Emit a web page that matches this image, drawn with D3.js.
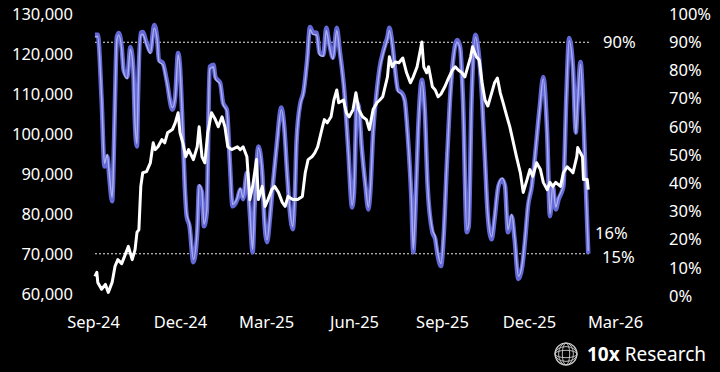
<!DOCTYPE html>
<html><head><meta charset="utf-8">
<script src="https://cdn.jsdelivr.net/npm/d3@7"></script>
<style>
html,body{margin:0;padding:0;background:#000;}
svg{display:block;}
text{font-family:"Noto Sans",sans-serif;fill:#fff;}
</style></head>
<body>
<script>
// ---- data ----
const startDate = "2024-09-01";
const priceDays = [2,4,5,9,13,16,20,23,26,30,33,37,41,44,46,48,50,52,56,60,63,65,68,72,75,78,83,86,89,91,94,97,100,105,109,111,114,117,120,124,128,131,135,138,141,145,151,154,157,161,164,167,171,173,177,180,183,187,190,194,198,201,204,209,214,219,222,225,229,232,235,240,242,245,249,252,255,257,262,265,268,272,275,278,282,286,289,293,297,300,303,308,310,313,316,320,324,328,332,335,339,341,344,346,349,351,355,358,361,364,368,371,376,379,382,386,389,392,395,397,401,404,407,410,413,417,420,423,426,429,433,436,439,443,447,450,454,457,460,464,468,471,475,478,481,484,489,492,496,499,502,506,507,512,513,517,518];
const priceValues = [64400,65400,62900,61200,62400,60400,62900,66900,68600,67600,69400,71900,68600,71100,75400,76100,86900,90300,90600,92800,97800,96100,96800,98600,97800,100300,101100,102800,105300,100300,97800,94300,96100,93600,96800,101800,94300,92800,100300,105300,103600,101800,104300,101800,96800,96100,96800,96100,96800,94300,83600,86900,93600,83600,86900,81900,83600,86100,86900,85400,82900,81900,84400,83600,83600,84400,90300,93600,94300,95300,96800,101800,103600,102800,104300,108500,111000,107800,108500,105300,104300,106100,110300,106100,104300,103600,101100,106100,107800,108500,109300,114300,119300,116800,118000,117800,119000,115300,112800,114300,116800,119300,123000,116800,115300,116800,111800,111000,109300,110000,111800,113500,116000,116800,116000,115300,114300,116800,119300,121800,119300,118500,112800,108500,107000,110300,112800,114000,110300,107800,104300,101800,98600,94300,90300,85400,88600,91100,89400,92800,91100,87900,86100,87900,86900,87900,86900,90300,91800,91100,90300,94300,96600,94300,88600,88600,86100];

const ratioDays = [2,5,9,12,15,17,20,21,23,25,27,30,32,36,39,42,44,46,47,50,52,56,60,64,67,69,73,77,83,86,89,91,93,96,98,101,105,109,111,114,116,119,122,126,128,133,136,140,143,146,151,154,157,161,164,167,169,173,177,179,182,185,188,192,197,200,203,206,209,211,213,217,220,224,227,230,234,237,241,244,247,251,255,258,263,267,271,273,276,278,281,285,288,290,293,297,300,304,308,310,313,316,319,323,326,329,333,335,337,340,344,347,350,355,358,360,364,367,370,373,377,381,384,387,391,393,396,400,403,407,410,413,417,420,424,428,431,434,438,441,445,449,452,455,459,462,467,471,475,478,481,484,487,492,495,498,502,505,507,510,513,516,518];
const ratioA = [92.6,92.6,69.6,45.9,49.5,42.4,33.6,40.3,69.6,91.9,93.3,88.3,80.2,77.7,88.3,81.3,60.1,53.0,69.6,93.3,93.6,89.8,86.6,96.1,91.9,83.7,82.7,76.7,66.1,70.7,86.2,81.3,66.1,38.9,28.3,24.7,12.0,22.6,38.9,36.7,24.7,29.7,81.3,82.0,77.7,75.6,68.6,66.1,48.4,31.8,34.3,37.8,34.3,43.8,29.7,15.5,31.8,53.0,43.8,28.3,19.1,27.2,38.9,53.0,66.8,60.1,43.8,29.7,23.7,34.3,55.5,68.6,72.1,83.7,95.4,93.6,93.3,86.2,85.5,95.1,89.8,84.5,95.1,87.3,72.1,51.9,31.4,36.7,68.6,67.1,53.0,38.9,30.7,36.7,58.0,73.1,81.3,87.3,91.9,95.1,89.8,80.2,73.1,72.1,69.6,58.0,34.3,15.5,28.3,58.0,76.7,66.1,38.9,22.6,20.1,15.5,10.6,22.6,45.9,67.1,84.8,90.8,88.3,69.6,22.6,24.7,69.6,92.6,87.3,69.6,48.4,28.3,20.1,27.2,38.9,41.3,38.9,22.6,28.3,20.1,6.0,10.6,20.1,31.8,38.9,48.4,66.1,77.7,58.0,28.3,38.9,30.7,34.3,38.9,69.6,91.5,81.3,58.0,69.6,83.0,63.6,34.3,15.0];
const ratioB = [91.8,92.0,70.5,47.0,50.2,43.5,35.0,41.0,68.8,91.0,92.5,87.5,79.5,77.0,87.5,80.5,60.8,54.0,69.0,92.5,92.8,89.0,86.0,95.0,91.2,83.0,82.0,76.0,66.8,70.0,85.5,80.8,66.8,39.8,29.2,25.5,13.0,23.5,39.5,37.2,25.5,30.5,80.5,81.2,77.0,75.0,68.0,65.5,48.8,32.5,34.8,38.2,34.8,44.2,30.5,16.5,32.5,52.5,44.0,29.0,20.0,27.8,39.5,52.5,66.0,59.5,43.5,30.5,24.5,35.0,55.0,68.0,71.5,83.0,94.5,92.8,92.5,85.5,85.0,94.2,89.0,84.0,94.2,86.5,71.5,51.5,32.2,37.5,68.0,66.5,52.5,39.5,31.5,37.2,57.5,72.5,80.5,86.5,91.0,94.2,89.0,79.5,72.5,71.5,69.0,57.5,35.0,16.5,29.0,57.5,76.0,65.5,39.5,23.5,21.0,16.5,11.5,23.5,46.5,66.5,84.0,90.0,87.5,69.0,23.5,25.5,69.0,91.8,86.5,69.0,48.8,29.0,21.0,28.0,39.5,41.8,39.5,23.5,29.0,21.0,7.0,11.5,21.0,32.5,39.5,48.8,65.5,77.0,57.5,29.0,39.5,31.5,35.0,39.5,69.0,90.5,80.5,57.5,69.0,82.2,63.0,35.0,16.0];

const leftTicks = [60000,70000,80000,90000,100000,110000,120000,130000];
const rightTicks = [0,10,20,30,40,50,60,70,80,90,100];
const xTickLabels = ["Sep-24","Dec-24","Mar-25","Jun-25","Sep-25","Dec-25","Mar-26"];
const xTickDates = ["2024-09-01","2024-12-01","2025-03-01","2025-06-01","2025-09-01","2025-12-01","2026-03-01"];
const thresholds = [90,15];
const endLabels = [{text:"16%", v:16},{text:"15%", v:15}];

// ---- chart ----
const W=720,H=372;
const svg=d3.select("body").append("svg").attr("width",W).attr("height",H);
svg.append("rect").attr("width",W).attr("height",H).attr("fill","#000");

const parse=d3.timeParse("%Y-%m-%d");
const t0=parse(startDate);
const x=d3.scaleTime().domain([parse(xTickDates[0]),parse(xTickDates[6])]).range([93,615]);
const yL=d3.scaleLinear().domain([60000,130000]).range([294,14]);
const yR=d3.scaleLinear().domain([0,100]).range([296,14]);

const fmt=d3.format(",");
// left axis
const gl=svg.append("g").attr("transform","translate(73,0)")
  .call(d3.axisLeft(yL).tickValues(leftTicks).tickFormat(fmt).tickSize(0).tickPadding(0));
gl.select(".domain").remove();
gl.selectAll("text").style("font-size","16.5px").attr("fill","#fff");
// right axis
const gr=svg.append("g").attr("transform","translate(669,0)")
  .call(d3.axisRight(yR).tickValues(rightTicks).tickFormat(d=>d+"%").tickSize(0).tickPadding(0));
gr.select(".domain").remove();
gr.selectAll("text").style("font-size","16.5px").attr("fill","#fff");
// x axis
const gx=svg.append("g").attr("transform","translate(0,316)")
  .call(d3.axisBottom(x).tickValues(xTickDates.map(parse)).tickFormat((d,i)=>xTickLabels[i]).tickSize(0).tickPadding(0));
gx.select(".domain").remove();
gx.selectAll("text").style("font-size","16.5px").attr("fill","#fff");

// thresholds
svg.selectAll(".thr").data(thresholds).enter().append("line")
  .attr("x1",95).attr("x2",590).attr("y1",d=>yR(d)).attr("y2",d=>yR(d))
  .attr("stroke","#e8e8e8").attr("stroke-width",1.1).attr("stroke-dasharray","2,2");

const toDate=d=>d3.timeDay.offset(t0,d);
const lineR=d3.line().x(d=>x(toDate(d[0]))).y(d=>yR(d[1])).curve(d3.curveMonotoneX);
const lineL=d3.line().x(d=>x(toDate(d[0]))).y(d=>yL(d[1]));

svg.append("path").datum(ratioDays.map((d,i)=>[d,ratioA[i]]))
  .attr("d",lineR).attr("fill","none").attr("stroke","#6469d8").attr("stroke-width",4.5).attr("stroke-linejoin","round");
svg.append("path").datum(ratioDays.map((d,i)=>[d,ratioB[i]]))
  .attr("d",lineR).attr("fill","none").attr("stroke","#aeb0ec").attr("stroke-width",1.4).attr("stroke-linejoin","round");
svg.append("path").datum(priceDays.map((d,i)=>[d,priceValues[i]]))
  .attr("d",lineL).attr("fill","none").attr("stroke","#fff").attr("stroke-width",3).attr("stroke-linejoin","round");

// annotation labels
svg.append("text").attr("x",603).attr("y",yR(90)).attr("dy","0.35em").style("font-size","16.5px").text("90%");
svg.append("text").attr("x",595).attr("y",233).attr("dy","0.35em").style("font-size","16.5px").text(endLabels[0].text);
svg.append("text").attr("x",602).attr("y",257).attr("dy","0.35em").style("font-size","16.5px").text(endLabels[1].text);

// logo
const lg=svg.append("g").attr("transform","translate(566,354)");
lg.append("circle").attr("r",11).attr("fill","none").attr("stroke","#ccc").attr("stroke-width",1.2);
[3.7,7.4].forEach(rx=>{
  lg.append("ellipse").attr("rx",rx).attr("ry",11).attr("fill","none").attr("stroke","#ccc").attr("stroke-width",0.9);
  lg.append("ellipse").attr("rx",11).attr("ry",rx).attr("fill","none").attr("stroke","#ccc").attr("stroke-width",0.9);
});
const lt=svg.append("text").attr("x",587).attr("y",361).style("font-size","19px");
lt.append("tspan").attr("font-weight","bold").text("10x");
lt.append("tspan").text(" Research");
</script>
</body></html>
